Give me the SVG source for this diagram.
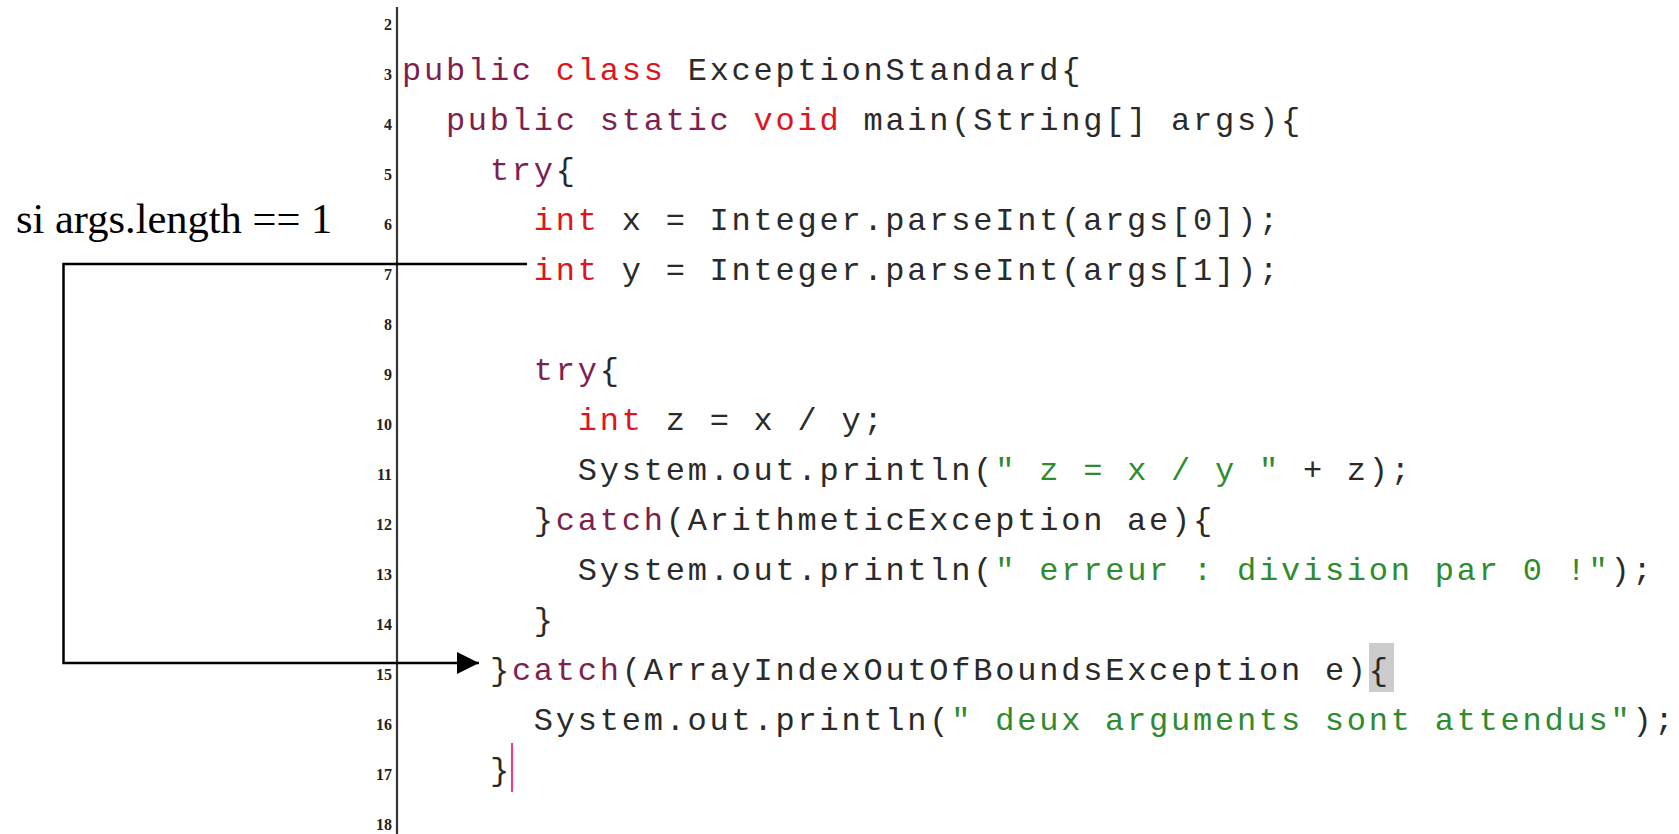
<svg xmlns="http://www.w3.org/2000/svg" width="1679" height="834" viewBox="0 0 1679 834">
  <style>
    .code { font-family: "Liberation Mono", "Courier New", monospace; font-size: 32px; letter-spacing: 2.77px; fill: #2a2a2a; }
    .kw { fill: #7f1f4f; }
    .ty { fill: #e0141e; }
    .str { fill: #2e8b2e; }
    .ln { font-family: "Liberation Serif", "Times New Roman", serif; font-size: 16px; font-weight: bold; fill: #222222; text-anchor: end; }
    .label { font-family: "Liberation Serif", "Times New Roman", serif; font-size: 42.5px; fill: #000000; }
    .wire { fill: none; stroke: #000000; stroke-width: 2.5; }
  </style>
  <defs>
    <marker id="arrow" markerWidth="22" markerHeight="22" refX="22" refY="11" orient="auto" markerUnits="userSpaceOnUse">
      <path d="M0,0 L22,11 L0,22 Z" fill="#000000"/>
    </marker>
  </defs>

  <rect width="1679" height="834" fill="#ffffff"/>

  <!-- editor gutter: line numbers and separator -->
  <g id="gutter">
    <line x1="397" y1="7" x2="397" y2="834" stroke="#333333" stroke-width="2.2"/>
    <text class="ln" x="392" y="30">2</text>
    <text class="ln" x="392" y="80">3</text>
    <text class="ln" x="392" y="130">4</text>
    <text class="ln" x="392" y="180">5</text>
    <text class="ln" x="392" y="230">6</text>
    <text class="ln" x="392" y="280">7</text>
    <text class="ln" x="392" y="330">8</text>
    <text class="ln" x="392" y="380">9</text>
    <text class="ln" x="392" y="430">10</text>
    <text class="ln" x="392" y="480">11</text>
    <text class="ln" x="392" y="530">12</text>
    <text class="ln" x="392" y="580">13</text>
    <text class="ln" x="392" y="630">14</text>
    <text class="ln" x="392" y="680">15</text>
    <text class="ln" x="392" y="730">16</text>
    <text class="ln" x="392" y="780">17</text>
    <text class="ln" x="392" y="830">18</text>
  </g>

  <!-- source listing; x = 402 + column * 21.97 -->
  <g id="code" xml:space="preserve">
    <rect x="1369" y="643" width="25" height="49" fill="#cccccc"/>
    <text class="code" x="402" y="80"><tspan class="kw">public</tspan> <tspan class="ty">class</tspan> ExceptionStandard{</text>
    <text class="code" x="445.9" y="130"><tspan class="kw">public</tspan> <tspan class="kw">static</tspan> <tspan class="ty">void</tspan> main(String[] args){</text>
    <text class="code" x="489.9" y="180"><tspan class="kw">try</tspan>{</text>
    <text class="code" x="533.8" y="230"><tspan class="ty">int</tspan> x = Integer.parseInt(args[0]);</text>
    <text class="code" x="533.8" y="280"><tspan class="ty">int</tspan> y = Integer.parseInt(args[1]);</text>
    <text class="code" x="533.8" y="380"><tspan class="kw">try</tspan>{</text>
    <text class="code" x="577.8" y="430"><tspan class="ty">int</tspan> z = x / y;</text>
    <text class="code" x="577.8" y="480">System.out.println(<tspan class="str">" z = x / y "</tspan> + z);</text>
    <text class="code" x="533.8" y="530">}<tspan class="kw">catch</tspan>(ArithmeticException ae){</text>
    <text class="code" x="577.8" y="580">System.out.println(<tspan class="str">" erreur : division par 0 !"</tspan>);</text>
    <text class="code" x="533.8" y="630">}</text>
    <text class="code" x="489.9" y="680">}<tspan class="kw">catch</tspan>(ArrayIndexOutOfBoundsException e){</text>
    <text class="code" x="533.8" y="730">System.out.println(<tspan class="str">" deux arguments sont attendus"</tspan>);</text>
    <text class="code" x="489.9" y="780">}</text>
    <line x1="512" y1="743" x2="512" y2="792" stroke="#ff3380" stroke-width="2"/>
  </g>

  <!-- condition label -->
  <g id="condition">
    <text class="label" x="16" y="233">si args.length == 1</text>
  </g>

  <!-- jump from line 7 to the outer catch -->
  <g id="connectors">
    <path class="wire" d="M527,264 L63.5,264 L63.5,663 L479,663" marker-end="url(#arrow)"/>
  </g>
</svg>
